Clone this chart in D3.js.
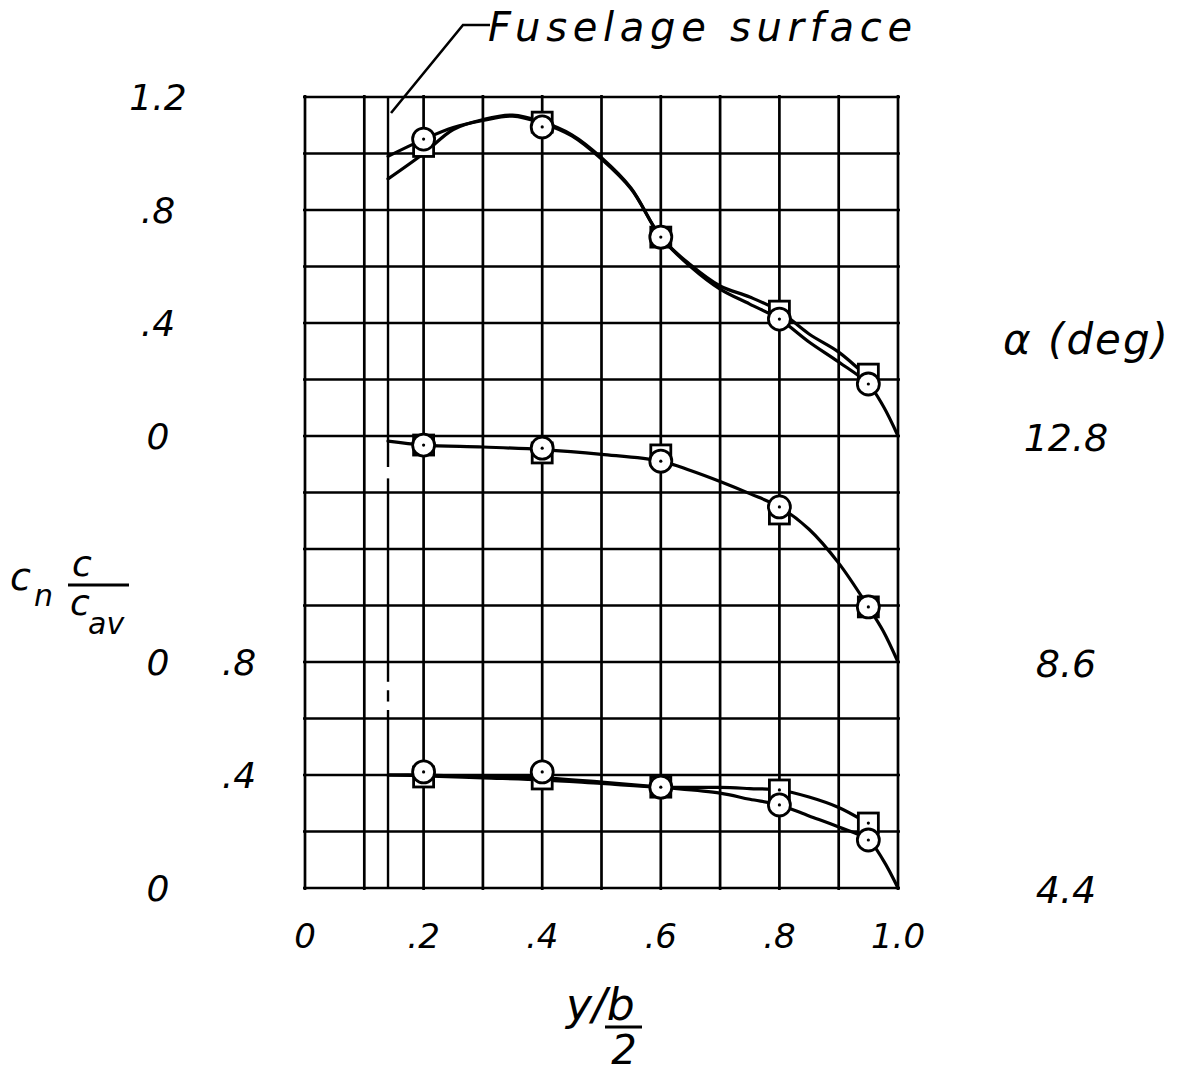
<!DOCTYPE html>
<html><head><meta charset="utf-8">
<script src="https://cdn.jsdelivr.net/npm/d3@7"></script>
<style>
body{margin:0;background:#fff}
text{font-family:"DejaVu Sans",sans-serif;font-style:oblique;fill:#000}
</style>
</head><body><svg id="c" width="1180" height="1072"></svg>
<script>
// ---------------- data ----------------
const stations = [0.2, 0.4, 0.6, 0.8, 0.95];
const alphaLabels = ["12.8", "8.6", "4.4"];
const panelBase = [1.6, 0.8, 0];          // sheet offset of each panel's zero
const fuselageStation = 0.14;
// solid pieces of the fuselage-surface line (sheet units, bottom..top)
const fuselagePieces = [[0, 0.63], [0.66, 0.7], [0.73, 1.45], [1.49, 2.8]];

const circleTop = [1.051, 1.094, 0.704, 0.414, 0.184];
const squareTop = [1.025, 1.111, 0.704, 0.442, 0.219];
const circleMid = [0.768, 0.757, 0.711, 0.549, 0.195];
const squareMid = [0.768, 0.740, 0.733, 0.524, 0.195];
const circleLow = [0.411, 0.411, 0.357, 0.294, 0.170];
const squareLow = [0.393, 0.386, 0.357, 0.347, 0.230];

// faired curves
const topCircleCurveX = [0.14, 0.2, 0.25, 0.3, 0.35, 0.4, 0.45, 0.5, 0.55, 0.6, 0.65, 0.7, 0.75, 0.8, 0.85, 0.9, 0.95, 0.975, 1.0];
const topCircleCurveY = [0.99, 1.05, 1.092, 1.117, 1.132, 1.107, 1.062, 0.98, 0.874, 0.704, 0.60, 0.52, 0.467, 0.414, 0.333, 0.262, 0.184, 0.106, 0];
const topSquareCurveX = [0.14, 0.2, 0.25, 0.3, 0.35, 0.4, 0.45, 0.5, 0.55, 0.6, 0.65, 0.7, 0.75, 0.8, 0.85, 0.9, 0.94];
const topSquareCurveY = [0.91, 1.0, 1.085, 1.12, 1.136, 1.112, 1.066, 0.985, 0.877, 0.704, 0.606, 0.531, 0.492, 0.442, 0.361, 0.297, 0.225];
const midCurveX = [0.14, 0.2, 0.3, 0.4, 0.5, 0.6, 0.65, 0.7, 0.75, 0.8, 0.85, 0.9, 0.95, 0.975, 1.0];
const midCurveY = [0.782, 0.768, 0.761, 0.752, 0.735, 0.711, 0.678, 0.639, 0.596, 0.549, 0.47, 0.35, 0.195, 0.11, 0];
const lowCircleCurveX = [0.14, 0.2, 0.3, 0.4, 0.5, 0.6, 0.7, 0.75, 0.8, 0.85, 0.9, 0.95, 0.975, 1.0];
const lowCircleCurveY = [0.40, 0.40, 0.395, 0.39, 0.375, 0.357, 0.336, 0.314, 0.294, 0.255, 0.216, 0.170, 0.099, 0];
const lowSquareCurveX = [0.14, 0.2, 0.3, 0.4, 0.5, 0.6, 0.7, 0.75, 0.8, 0.85, 0.9, 0.94];
const lowSquareCurveY = [0.40, 0.397, 0.39, 0.383, 0.37, 0.357, 0.356, 0.352, 0.347, 0.322, 0.285, 0.24];

const xTickValues = [0, 0.2, 0.4, 0.6, 0.8, 1.0];
const xTickLabels = ["0", ".2", ".4", ".6", ".8", "1.0"];
const xGridValues = [0, 0.1, 0.2, 0.3, 0.4, 0.5, 0.6, 0.7, 0.8, 0.9, 1.0];
const yGridValues = [0, 0.2, 0.4, 0.6, 0.8, 1.0, 1.2, 1.4, 1.6, 1.8, 2.0, 2.2, 2.4, 2.6, 2.8];
// left labels: [panel index, value, label]
const leftLabelsOuter = [[0, 1.2, "1.2"], [0, 0.8, ".8"], [0, 0.4, ".4"], [0, 0, "0"], [1, 0, "0"], [2, 0, "0"]];
const leftLabelsInner = [[2, 0.8, ".8"], [2, 0.4, ".4"]];

// ---------------- drawing ----------------
const svg = d3.select("#c");
svg.append("rect").attr("width", 1180).attr("height", 1072).attr("fill", "#fff");

const x = d3.scaleLinear().domain([0, 1]).range([305, 898]);
const sheet = d3.scaleLinear().domain([0, 2.8]).range([888, 97]);
const yP = (p, v) => sheet(panelBase[p] + v);

const gridW = 2.7;
const g = svg.append("g").attr("stroke", "#000").attr("stroke-width", gridW).attr("fill", "none");
g.selectAll("line.h").data(yGridValues).join("line").attr("class", "h")
  .attr("x1", x(0) - 2).attr("x2", x(1) + 2)
  .attr("y1", d => sheet(d)).attr("y2", d => sheet(d));
g.selectAll("line.v").data(xGridValues).join("line").attr("class", "v")
  .attr("x1", d => x(d)).attr("x2", d => x(d))
  .attr("y1", sheet(2.8) - 2).attr("y2", sheet(0) + 2);
// fuselage surface line
g.selectAll("line.f").data(fuselagePieces).join("line").attr("class", "f")
  .attr("x1", x(fuselageStation)).attr("x2", x(fuselageStation))
  .attr("y1", d => sheet(d[0])).attr("y2", d => sheet(d[1]))
  .attr("stroke-width", 2.4);

// leader line
svg.append("path")
  .attr("d", d3.line()([[490, 25], [463, 25], [x(fuselageStation) + 3, sheet(2.8) + 16]]))
  .attr("stroke", "#000").attr("stroke-width", 2.6).attr("fill", "none");
svg.append("text").attr("x", 488).attr("y", 41).attr("font-size", 40)
  .attr("textLength", 424).attr("lengthAdjust", "spacing").text("Fuselage surface");

// curves
const line = (p) => d3.line().x(d => x(d[0])).y(d => yP(p, d[1])).curve(d3.curveCatmullRom.alpha(0.5));
const zip = (a, b) => a.map((v, i) => [v, b[i]]);
const curves = [
  [0, zip(topCircleCurveX, topCircleCurveY)],
  [0, zip(topSquareCurveX, topSquareCurveY)],
  [1, zip(midCurveX, midCurveY)],
  [2, zip(lowCircleCurveX, lowCircleCurveY)],
  [2, zip(lowSquareCurveX, lowSquareCurveY)]
];
curves.forEach(([p, pts]) => {
  svg.append("path").attr("d", line(p)(pts))
    .attr("fill", "none").attr("stroke", "#000").attr("stroke-width", 3.2)
    .attr("stroke-linecap", "round").attr("stroke-linejoin", "round");
});

// markers
const squares = [squareTop, squareMid, squareLow];
const circles = [circleTop, circleMid, circleLow];
const half = 10, rad = 11;
squares.forEach((vals, p) => {
  const mg = svg.append("g");
  mg.selectAll("rect").data(vals).join("rect")
    .attr("x", (d, i) => x(stations[i]) - half).attr("y", d => yP(p, d) - half)
    .attr("width", 2 * half).attr("height", 2 * half)
    .attr("fill", "#fff").attr("stroke", "#000").attr("stroke-width", 2.8);
  mg.selectAll("circle").data(vals).join("circle")
    .attr("cx", (d, i) => x(stations[i])).attr("cy", d => yP(p, d)).attr("r", 1.6).attr("fill", "#000");
});
circles.forEach((vals, p) => {
  const mg = svg.append("g");
  mg.selectAll("circle.o").data(vals).join("circle").attr("class", "o")
    .attr("cx", (d, i) => x(stations[i])).attr("cy", d => yP(p, d)).attr("r", rad)
    .attr("fill", "#fff").attr("stroke", "#000").attr("stroke-width", 2.8);
  mg.selectAll("circle.d").data(vals).join("circle").attr("class", "d")
    .attr("cx", (d, i) => x(stations[i])).attr("cy", d => yP(p, d)).attr("r", 1.6).attr("fill", "#000");
});

// x tick labels
svg.append("g").selectAll("text").data(xTickValues).join("text")
  .attr("x", d => x(d)).attr("y", 948).attr("text-anchor", "middle").attr("font-size", 34)
  .text((d, i) => xTickLabels[i]);

// left labels
svg.append("g").selectAll("text").data(leftLabelsOuter).join("text")
  .attr("x", 158).attr("y", d => yP(d[0], d[1]) + 13).attr("text-anchor", "middle").attr("font-size", 36)
  .text(d => d[2]);
svg.append("g").selectAll("text").data(leftLabelsInner).join("text")
  .attr("x", 239).attr("y", d => yP(d[0], d[1]) + 13).attr("text-anchor", "middle").attr("font-size", 36)
  .text(d => d[2]);

// right alpha labels
svg.append("g").selectAll("text").data(alphaLabels).join("text")
  .attr("x", 1066).attr("y", (d, i) => yP(i, 0) + 15).attr("text-anchor", "middle").attr("font-size", 38)
  .text(d => d);
svg.append("text").attr("x", 1003).attr("y", 354).attr("font-size", 42)
  .attr("textLength", 165).attr("lengthAdjust", "spacing").text("α (deg)");

// y-axis label  c_n c/c_av
svg.append("text").attr("x", 10).attr("y", 590).attr("font-size", 38).text("c");
svg.append("text").attr("x", 34).attr("y", 606).attr("font-size", 30).text("n");
svg.append("text").attr("x", 72).attr("y", 576).attr("font-size", 36).text("c");
svg.append("line").attr("x1", 68).attr("x2", 129).attr("y1", 585).attr("y2", 585).attr("stroke", "#000").attr("stroke-width", 3);
svg.append("text").attr("x", 70).attr("y", 615).attr("font-size", 36).text("c");
svg.append("text").attr("x", 88).attr("y", 634).attr("font-size", 30).text("av");

// x-axis label  y/(b/2)
svg.append("text").attr("x", 566).attr("y", 1020).attr("font-size", 44).text("y/b");
svg.append("line").attr("x1", 605).attr("x2", 642).attr("y1", 1027).attr("y2", 1027).attr("stroke", "#000").attr("stroke-width", 3);
svg.append("text").attr("x", 624).attr("y", 1064).attr("text-anchor", "middle").attr("font-size", 40).text("2");
</script>
</body></html>
